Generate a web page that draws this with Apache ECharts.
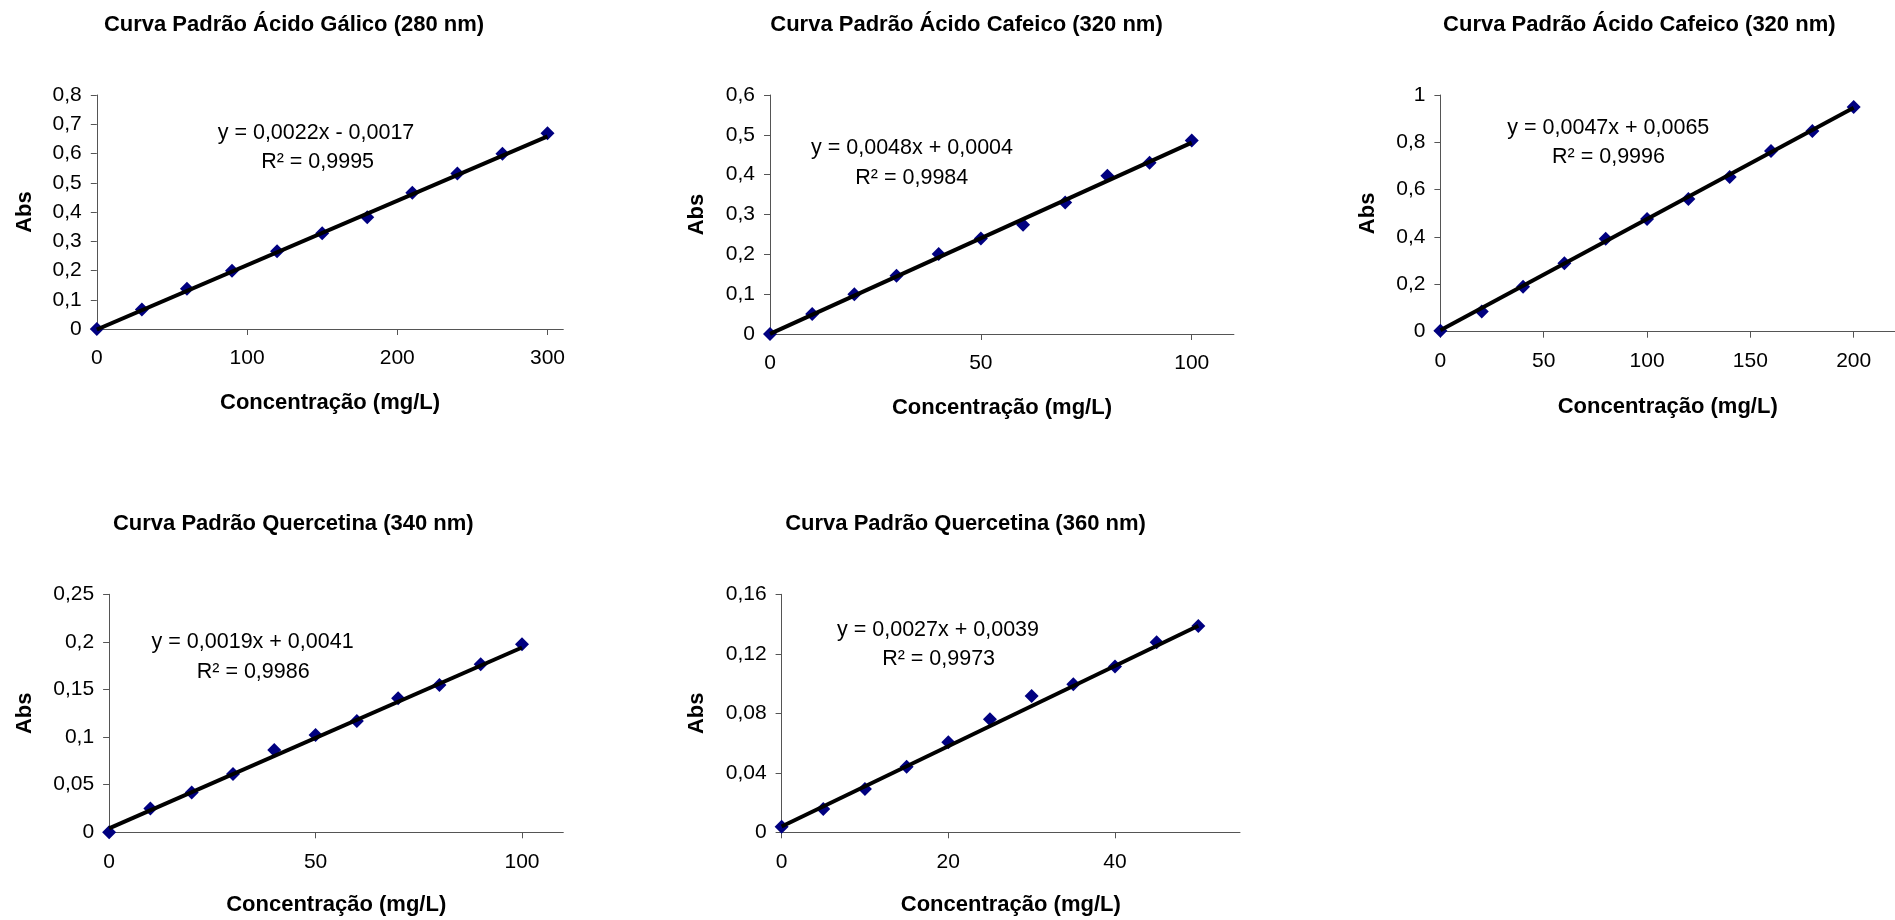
<!DOCTYPE html>
<html>
<head>
<meta charset="utf-8">
<script src="https://cdn.jsdelivr.net/npm/echarts@6/dist/echarts.min.js"></script>
<style>
html,body{margin:0;padding:0;background:#fff;}
#c{width:1895px;height:920px;}
</style>
</head>
<body>
<div id="c"></div>
<script>
// ---------------- DATA ----------------
const chartTitles = [
  'Curva Padrão Ácido Gálico (280 nm)',
  'Curva Padrão Ácido Cafeico (320 nm)',
  'Curva Padrão Ácido Cafeico (320 nm)',
  'Curva Padrão Quercetina (340 nm)',
  'Curva Padrão Quercetina (360 nm)'
];
const xAxisTitle = 'Concentração (mg/L)';
const yAxisTitle = 'Abs';

const gallicConc = [0, 30, 60, 90, 120, 150, 180, 210, 240, 270, 300];
const gallicAbs  = [0, 0.067, 0.138, 0.199, 0.266, 0.327, 0.382, 0.466, 0.532, 0.599, 0.669];
const gallicTrend = [[0, -0.0017], [300, 0.6583]];

const cafeicAConc = [0, 10, 20, 30, 40, 50, 60, 70, 80, 90, 100];
const cafeicAAbs  = [0, 0.050, 0.100, 0.146, 0.201, 0.240, 0.274, 0.330, 0.397, 0.430, 0.486];
const cafeicATrend = [[0, 0.0004], [100, 0.4804]];

const cafeicBConc = [0, 20, 40, 60, 80, 100, 120, 140, 160, 180, 200];
const cafeicBAbs  = [0.004, 0.085, 0.190, 0.289, 0.393, 0.476, 0.561, 0.654, 0.763, 0.848, 0.949];
const cafeicBTrend = [[0, 0.0065], [200, 0.9465]];

const querc340Conc = [0, 10, 20, 30, 40, 50, 60, 70, 80, 90, 100];
const querc340Abs  = [0, 0.0249, 0.0417, 0.0613, 0.0865, 0.1022, 0.117, 0.1408, 0.1548, 0.1765, 0.1975];
const querc340Trend = [[0, 0.0041], [100, 0.1941]];

const querc360Conc = [0, 5, 10, 15, 20, 25, 30, 35, 40, 45, 50];
const querc360Abs  = [0.0038, 0.0157, 0.0291, 0.0441, 0.0605, 0.076, 0.0917, 0.0995, 0.1114, 0.1277, 0.1387];
const querc360Trend = [[0, 0.0039], [50, 0.1389]];

const equations = [
  'y = 0,0022x - 0,0017',
  'y = 0,0048x + 0,0004',
  'y = 0,0047x + 0,0065',
  'y = 0,0019x + 0,0041',
  'y = 0,0027x + 0,0039'
];
const r2Texts = ['R² = 0,9995', 'R² = 0,9984', 'R² = 0,9996', 'R² = 0,9986', 'R² = 0,9973'];

const xTickLabels = [
  [0, 100, 200, 300],
  [0, 50, 100],
  [0, 50, 100, 150, 200],
  [0, 50, 100],
  [0, 20, 40]
];
const xMax = [310.5, 110, 220, 110, 55];
const yMax = [0.8, 0.6, 1, 0.25, 0.16];
const yInterval = [0.1, 0.1, 0.2, 0.05, 0.04];

const concs = [gallicConc, cafeicAConc, cafeicBConc, querc340Conc, querc360Conc];
const absVals = [gallicAbs, cafeicAAbs, cafeicBAbs, querc340Abs, querc360Abs];
const trends = [gallicTrend, cafeicATrend, cafeicBTrend, querc340Trend, querc360Trend];

// ---------------- LAYOUT ----------------
const FONT = '"Liberation Sans", Arial, Helvetica, sans-serif';
const layout = [
  {left: 96.8, top: 95, width: 466.5, height: 234, yGap: 61, xGap: 63, title: [294, 25], eq: [316, 133], r2: [317.6, 162.5]},
  {left: 770, top: 95, width: 463.9, height: 239, yGap: 62.5, xGap: 63, title: [966.5, 24.5], eq: [912, 148.3], r2: [911.8, 177.7]},
  {left: 1440.4, top: 95, width: 469.6, height: 236.7, yGap: 61, xGap: 64, title: [1639.3, 24.5], eq: [1608.3, 127.7], r2: [1608.5, 157.3]},
  {left: 109.1, top: 594.3, width: 454.2, height: 238, yGap: 73, xGap: 62, title: [293.3, 524], eq: [252.6, 641.7], r2: [253.2, 671.7]},
  {left: 781.6, top: 594.3, width: 458.4, height: 238, yGap: 74, xGap: 62, title: [965.5, 524], eq: [938, 630], r2: [938.6, 659]}
];

const fmt = v => (Math.round(v * 10000) / 10000).toString().replace('.', ',');
const axisColor = '#555';

const grids = [], xAxes = [], yAxes = [], series = [], graphics = [];
layout.forEach((L, i) => {
  grids.push({left: L.left, top: L.top, width: L.width, height: L.height, containLabel: false});
  xAxes.push({
    type: 'value', gridIndex: i, min: 0, max: xMax[i],
    name: xAxisTitle, nameLocation: 'middle', nameGap: L.xGap,
    nameTextStyle: {fontFamily: FONT, fontSize: 22, fontWeight: 'bold', color: '#000'},
    axisLine: {show: true, onZero: false, lineStyle: {color: axisColor, width: 1}},
    axisTick: {show: true, length: 6, customValues: xTickLabels[i], lineStyle: {color: axisColor}},
    axisLabel: {customValues: xTickLabels[i], fontFamily: FONT, fontSize: 21, color: '#000', margin: 19},
    splitLine: {show: false}
  });
  yAxes.push({
    type: 'value', gridIndex: i, min: 0, max: yMax[i], interval: yInterval[i],
    name: yAxisTitle, nameLocation: 'middle', nameGap: L.yGap,
    nameTextStyle: {fontFamily: FONT, fontSize: 22, fontWeight: 'bold', color: '#000'},
    axisLine: {show: true, onZero: false, lineStyle: {color: axisColor, width: 1}},
    axisTick: {show: true, length: 6, lineStyle: {color: axisColor}},
    axisLabel: {fontFamily: FONT, fontSize: 21, color: '#000', margin: 15, formatter: fmt},
    splitLine: {show: false}
  });
  series.push({
    type: 'scatter', xAxisIndex: i, yAxisIndex: i,
    data: concs[i].map((c, k) => [c, absVals[i][k]]),
    symbol: 'diamond', symbolSize: 14,
    itemStyle: {color: '#000080', opacity: 1}, z: 2, silent: true
  });
  series.push({
    type: 'line', xAxisIndex: i, yAxisIndex: i,
    data: trends[i], symbol: 'none',
    lineStyle: {color: '#000', width: 4}, z: 3, silent: true
  });
  graphics.push({type: 'text', x: L.title[0], y: L.title[1],
    style: {text: chartTitles[i], font: 'bold 22px ' + FONT, fill: '#000', align: 'center', verticalAlign: 'middle'}});
  graphics.push({type: 'text', x: L.eq[0], y: L.eq[1],
    style: {text: equations[i], font: '21.5px ' + FONT, fill: '#000', align: 'center', verticalAlign: 'middle'}});
  graphics.push({type: 'text', x: L.r2[0], y: L.r2[1],
    style: {text: r2Texts[i], font: '21.5px ' + FONT, fill: '#000', align: 'center', verticalAlign: 'middle'}});
});

const chart = echarts.init(document.getElementById('c'), null, {renderer: 'canvas'});
chart.setOption({
  animation: false,
  backgroundColor: '#fff',
  grid: grids, xAxis: xAxes, yAxis: yAxes, series: series,
  graphic: graphics
});
</script>
</body>
</html>
